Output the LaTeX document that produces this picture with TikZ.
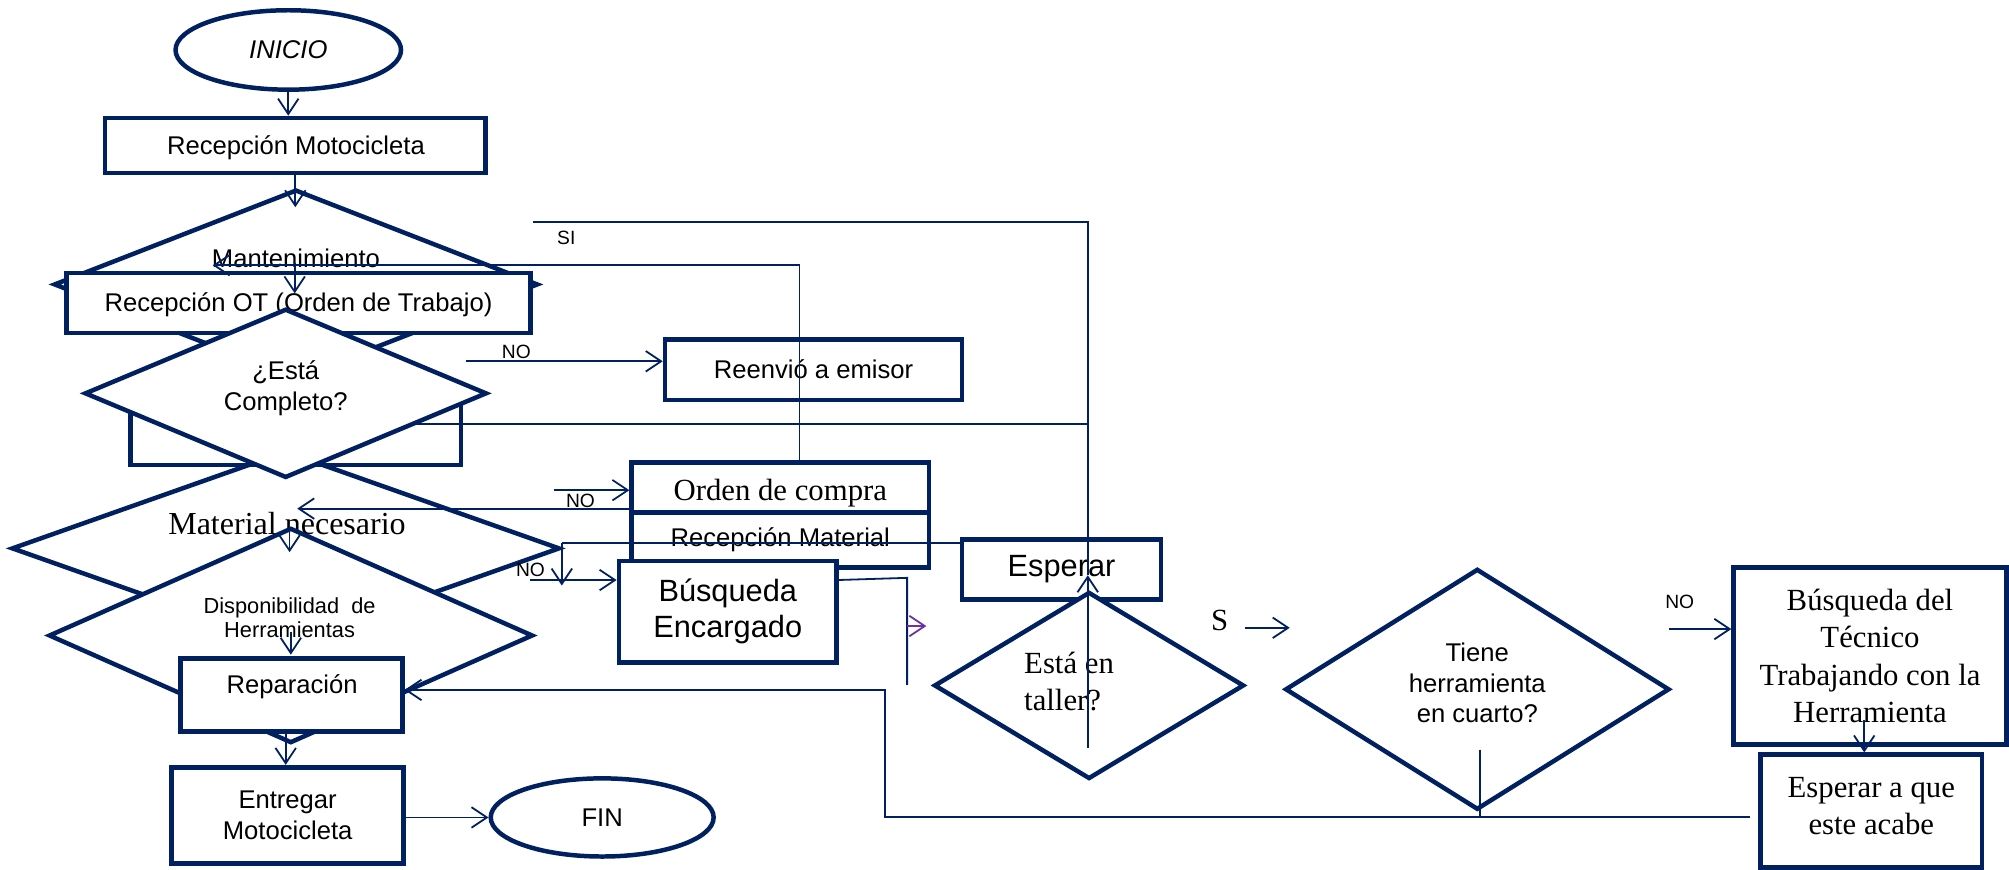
\documentclass[tikz,border=0pt]{standalone}
\usepackage{fontspec}
\setmainfont{Liberation Sans}
\newfontfamily\serif{Liberation Serif}
\usetikzlibrary{shapes.geometric,arrows.meta}
\definecolor{navy}{HTML}{002060}
\definecolor{purp}{HTML}{7030A0}
\begin{document}
\begin{tikzpicture}[x=0.5pt,y=-0.5pt,
  box/.style={draw=navy,line width=1.75pt,fill=white,inner sep=0pt,rectangle,align=center,font=\fontsize{10}{12}\selectfont},
  dia/.style={draw=navy,line width=1.75pt,fill=white,inner sep=0pt,diamond},
  oval/.style={draw=navy,line width=1.75pt,fill=white,inner sep=0pt,ellipse,font=\fontsize{10}{12}\selectfont},
  conn/.style={draw=navy,line width=0.7pt},
  arr/.style={conn,-{Straight Barb[length=6pt,width=8pt]}},
  lbl/.style={inner sep=0pt,font=\fontsize{7.5}{9}\selectfont},
  txt/.style={inner sep=0pt,align=center,font=\fontsize{10}{12}\selectfont},
  stxt/.style={inner sep=0pt,align=center,font=\serif\fontsize{12}{14.5}\selectfont},
]
\useasboundingbox (0,0) rectangle (1568,679);

% ---- left column shapes ----
\node[oval,minimum width=88pt,minimum height=31pt] (ini) at (225,39) {\itshape INICIO};
\node[box,minimum width=148.5pt,minimum height=21.5pt] (rm) at (230.5,113.5) {};
\node[txt] (rmtxt) at (231,115.5) {Recepción Motocicleta};

\node[dia,minimum width=189pt,minimum height=74pt] (mant) at (231,222) {};
\node[txt] (manttxt) at (231,202) {Mantenimiento};
\node[box,minimum width=181pt,minimum height=23.5pt] (rot) at (233,236.5) {};
\node[txt] (rottxt) at (233,237.5) {Recepción OT (Orden de Trabajo)};

\node[dia,minimum width=214pt,minimum height=76pt] (mat) at (223,428) {};
\node[box,minimum width=129pt,minimum height=25.5pt] (hid) at (231,337.5) {};
\node[dia,minimum width=157pt,minimum height=66pt] (comp) at (223,307) {};
\node[txt] (comptxt) at (223,303) {¿Está\\Completo?};

\node[stxt,font=\serif\fontsize{12.5}{14}\selectfont] (mattxt) at (224,409) {Material necesario};
\node[dia,minimum width=189pt,minimum height=84pt] (disp) at (227,496) {};
\node[inner sep=0pt,align=center,font=\fontsize{8.5}{9.5}\selectfont] (disptxt) at (226,482) {Disponibilidad\ \ de\\Herramientas};

\node[box,minimum width=86.5pt,minimum height=28.5pt] (rep) at (227.5,542.5) {};
\node[txt] (reptxt) at (228,536) {Reparación};
\node[box,minimum width=90.5pt,minimum height=37.5pt] (ent) at (224.5,636.5) {Entregar\\Motocicleta};
\node[oval,minimum width=87pt,minimum height=30.5pt] (fin) at (470,638) {FIN};

% ---- middle shapes ----
\node[box,minimum width=116pt,minimum height=23.5pt] (reen) at (635,288.5) {Reenvió a emisor};
\node[box,minimum width=116pt,minimum height=19.5pt] (oc) at (609,380.5) {};
\node[stxt] (octxt) at (609,385) {Orden de compra};
\node[box,minimum width=116pt,minimum height=21.5pt] (rmat) at (609,421.5) {};
\node[txt] (rmattxt) at (609,421) {Recepción Material};
\node[box,minimum width=85pt,minimum height=39.5pt,font=\fontsize{12}{14}\selectfont] (benc) at (568,477.5) {Búsqueda\\Encargado};
\node[box,minimum width=77.5pt,minimum height=23.5pt,font=\fontsize{12}{14}\selectfont] (esp) at (828.5,444.5) {Esperar};

\node[dia,minimum width=121pt,minimum height=73pt] (tal) at (850,535) {};
\node[stxt,align=left,anchor=west] (taltxt) at (799,532) {Está en\\taller?};

% ---- right shapes ----
\node[dia,minimum width=150pt,minimum height=94pt] (tie) at (1153,538) {};
\node[txt] (tietxt) at (1153,533) {Tiene\\herramienta\\en cuarto?};
\node[box,minimum width=106.5pt,minimum height=69pt,font=\serif\fontsize{12}{14.5}\selectfont] (btec) at (1459.5,512) {Búsqueda del\\Técnico\\Trabajando con la\\Herramienta};
\node[box,minimum width=86.5pt,minimum height=44pt] (eac) at (1460.5,633) {};
\node[stxt] (eactxt) at (1460.5,629) {Esperar a que\\este acabe};

% ---- connectors ----
\draw[arr] (ini.south) -- (ini.south |- rm.north);
\draw[arr] (rm.south) -- ++(0,25);
\coordinate (m1) at (230,205);
\draw[arr] (m1) -- (230,229);

\coordinate (c1) at (624,207);
\coordinate (c1e) at (166,207);
\draw[arr] (oc.north -| c1) -- (c1) -- (c1e);

\coordinate (n1) at (364,282);
\draw[arr] (n1) -- (n1 -| reen.west);
\node[lbl] (no1) at (403,275) {NO};

\coordinate (si1) at (416,173);
\coordinate (si2) at (849,173);
\coordinate (si3) at (849,449);
\draw[conn] (si1) -- (si2) -- (si3);
\node[lbl] (silbl) at (442,186) {SI};
\coordinate (t1) at (849,584);
\draw[arr] (t1) -- (si3);

\coordinate (h1) at (321,331);
\draw[conn] (h1) -- (h1 -| si2);

\coordinate (n2) at (432,382.6);
\draw[arr] (n2) -- (n2 -| oc.west);
\node[lbl] (no2) at (453,391) {NO};

\coordinate (o1) at (492,397);
\coordinate (o1e) at (232,397);
\draw[arr] (o1) -- (o1e);

\coordinate (mr) at (438.5,424);
\draw[conn] (mr) -- (mr -| esp.west);
\draw[arr] (mr) -- (438.5,457);

\coordinate (n3) at (414,452.7);
\draw[arr] (n3) -- (n3 -| benc.west);
\node[lbl] (no3) at (414,445) {NO};

\coordinate (b1) at (654,452.7);
\coordinate (b2) at (708,451);
\draw[conn] (b1) -- (b2) -- (708,534.6);
\coordinate (p1) at (708,488.6);
\draw[draw=purp,line width=0.7pt,-{Straight Barb[length=6pt,width=8pt]}] (p1) -- (723,488.6);

\draw[arr] (226,414) -- (226,431);
\draw[arr] (227,493) -- (227,511);
\draw[arr] (223,572) -- (223,597);
\draw[arr] (ent.east |- fin.west) -- (fin.west);

\coordinate (l1) at (1366,637.5);
\coordinate (l2) at (690.6,637.5);
\coordinate (l3) at (690.6,538.5);
\draw[arr] (l1) -- (l2) -- (l3) -- (l3 -| rep.east);
\draw[conn] (1155,585) -- (1155,638);

\coordinate (s1) at (971.6,490);
\draw[arr] (s1) -- (1006.6,490);
\node[inner sep=0pt,font=\serif\fontsize{12}{14}\selectfont] (slbl) at (952,484) {S};

\coordinate (n4) at (1303,491);
\draw[arr] (n4) -- (n4 -| btec.west);
\node[lbl] (no4) at (1311,470) {NO};

\draw[arr] (1455,562) -- (eac.north -| 1455,0);
\end{tikzpicture}
\end{document}
